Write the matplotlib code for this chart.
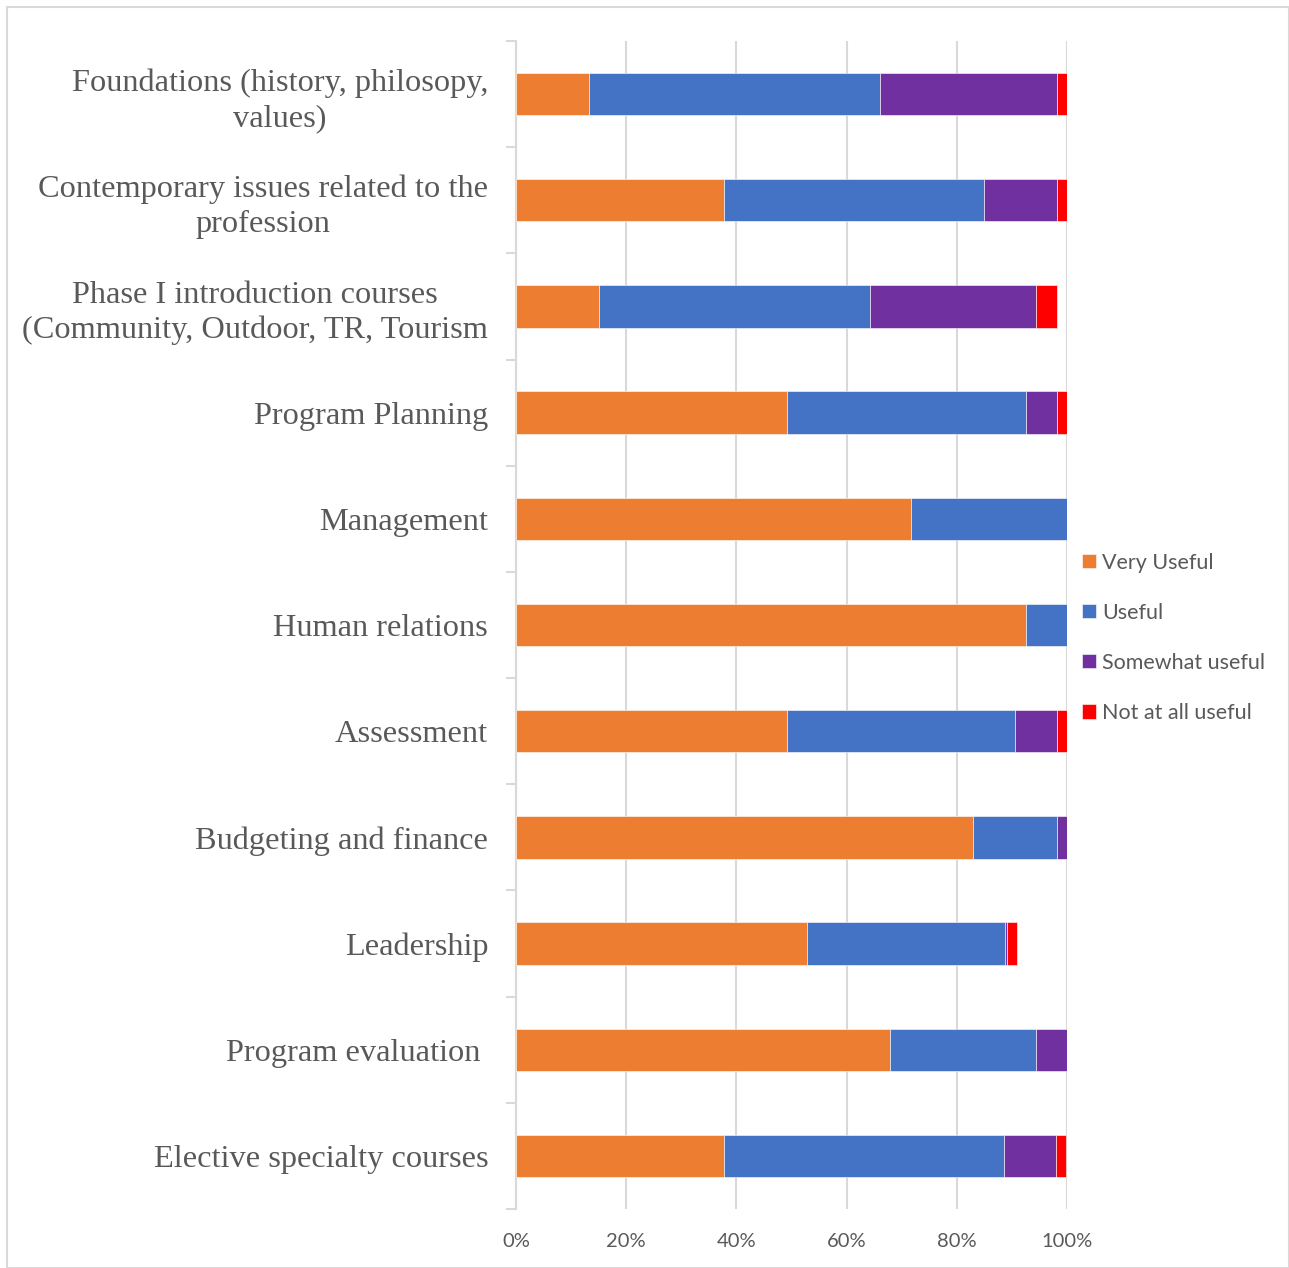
import numpy as np
import matplotlib
matplotlib.use("Agg")
import matplotlib.pyplot as plt
from matplotlib.patches import Rectangle

courses = [
    "Foundations (history, philosopy,\nvalues)",
    "Contemporary issues related to the\nprofession",
    "Phase I introduction courses\n(Community, Outdoor, TR, Tourism",
    "Program Planning",
    "Management",
    "Human relations",
    "Assessment",
    "Budgeting and finance",
    "Leadership",
    "Program evaluation ",
    "Elective specialty courses",
]

# percent of respondents
very_useful = [13.2, 37.7, 15.1, 49.1, 71.7, 92.5, 49.1, 83.0, 52.8, 67.9, 37.7]
useful = [52.8, 47.2, 49.1, 43.4, 28.3, 7.5, 41.5, 15.1, 36.0, 26.4, 50.9]
somewhat_useful = [32.1, 13.2, 30.2, 5.7, 0.0, 0.0, 7.5, 1.9, 0.3, 5.7, 9.4]
not_useful = [1.9, 1.9, 3.8, 1.9, 0.0, 0.0, 1.9, 0.0, 1.8, 0.0, 1.9]

series = [
    ("Very Useful", very_useful, "#ED7D31"),
    ("Useful", useful, "#4472C4"),
    ("Somewhat useful", somewhat_useful, "#7030A0"),
    ("Not at all useful", not_useful, "#FF0000"),
]

grey = "#595959"
light = "#d9d9d9"

fig = plt.figure(figsize=(12.89, 12.68), dpi=100)
ax = fig.add_axes([0.4003, 0.0465, 0.4275, 0.9212])

y = np.arange(len(courses))
left = np.zeros(len(courses))
for name, vals, col in series:
    vals = np.array(vals)
    ax.barh(y, vals, left=left, height=0.4, color=col, label=name,
            edgecolor="white", linewidth=0.4, zorder=3)
    left += vals

ax.set_xlim(0, 100)
ax.set_ylim(len(courses) - 0.5, -0.5)
ax.set_xticks(np.arange(0, 101, 20))
ax.set_xticklabels([f"{v}%" for v in range(0, 101, 20)])
ax.xaxis.grid(True, color=light, linewidth=1.5, zorder=0)
ax.set_yticks(y)
ax.set_yticklabels(courses, fontfamily="Liberation Serif", fontsize=23.3,
                   color=grey, multialignment="center", linespacing=1.28)
ax.set_yticks(np.arange(-0.5, len(courses)), minor=True)
ax.tick_params(axis="y", which="major", length=0, pad=20)
ax.tick_params(axis="y", which="minor", length=7, color=light, width=1.5)
ax.tick_params(axis="x", length=0, pad=17, labelsize=14.5, labelcolor=grey)
for lbl in ax.get_xticklabels():
    lbl.set_fontfamily("Lato")

for s in ["top", "right", "bottom"]:
    ax.spines[s].set_visible(False)
ax.spines["left"].set_color(light)
ax.spines["left"].set_linewidth(1.5)

leg = fig.legend(loc="center left", bbox_to_anchor=(0.824, 0.497), frameon=False,
                 handlelength=0.65, handleheight=0.65, handletextpad=0.3,
                 labelspacing=1.4, prop={"family": "Lato", "size": 15.5})
for t in leg.get_texts():
    t.set_color(grey)

fig.patches.append(Rectangle((7 / 1289, 0), 1 - 7 / 1289, 1 - 7 / 1268,
                             transform=fig.transFigure, fill=False,
                             edgecolor=light, linewidth=1.5))

fig.savefig("out.png", dpi=100)
